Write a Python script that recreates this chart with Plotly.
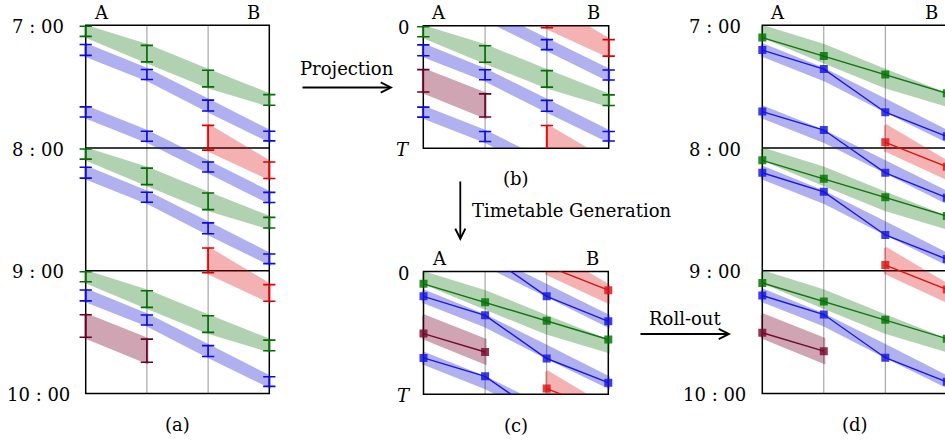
import plotly.graph_objects as go

W, H = 945, 444
PERIOD = 60  # minutes in one timetable period

HOUR_LABELS = ["7 : 00", "8 : 00", "9 : 00", "10 : 00"]
STATION_NAMES = ["A", "B"]
PANEL_LABELS = ["(a)", "(b)", "(c)", "(d)"]
PERIOD_LABELS = ["0", "<i>T</i>"]
ARROW_LABELS = ["Projection", "Timetable Generation", "Roll-out"]

# ---- train data (minutes after the start of the train's hour) ----
green_stations = [0, 1, 2, 3]
green_lo = [0.5, 9.8, 22.0, 33.9]
green_hi = [5.4, 17.9, 30.1, 39.1]
green_plan = [6.0, 15.0, 24.0, 33.2]
green_hours = [0, 1, 2]

blue1_stations = [0, 1, 2, 3]
blue1_lo = [9.4, 21.6, 36.6, 51.8]
blue1_hi = [14.7, 26.5, 41.9, 56.5]
blue1_plan = [12.1, 21.4, 42.5, 54.3]
blue1_hours = [0, 1, 2]

blue2_stations = [0, 1, 2, 3]
blue2_lo = [39.9, 51.8, 66.8, 81.7]
blue2_hi = [44.8, 56.7, 71.7, 86.6]
blue2_plan = [42.2, 51.2, 72.1, 84.3]
blue2_hours = [0]

red_stations = [2, 3]
red_lo = [48.9, 66.8]
red_hi = [61.0, 74.9]
red_plan = [57.2, 69.1]
red_hours = [0, 1]

maroon_stations = [0, 1]
maroon_lo = [21.5, 33.4]
maroon_hi = [32.5, 44.7]
maroon_plan = [30.3, 39.3]
maroon_hours = [2]

trains = [
    dict(st=green_stations, lo=green_lo, hi=green_hi, plan=green_plan, hours=green_hours,
         bar="rgb(0,110,0)", fill="rgb(0,110,0)", fop=0.30, line="rgb(20,115,20)", mark="rgba(0,115,0,0.82)"),
    dict(st=blue1_stations, lo=blue1_lo, hi=blue1_hi, plan=blue1_plan, hours=blue1_hours,
         bar="rgb(10,10,225)", fill="rgb(20,20,210)", fop=0.33, line="rgb(25,25,225)", mark="rgba(20,20,225,0.82)"),
    dict(st=blue2_stations, lo=blue2_lo, hi=blue2_hi, plan=blue2_plan, hours=blue2_hours,
         bar="rgb(10,10,225)", fill="rgb(20,20,210)", fop=0.33, line="rgb(25,25,225)", mark="rgba(20,20,225,0.82)"),
    dict(st=red_stations, lo=red_lo, hi=red_hi, plan=red_plan, hours=red_hours,
         bar="rgb(220,0,0)", fill="rgb(220,0,0)", fop=0.30, line="rgb(215,20,20)", mark="rgba(220,20,20,0.82)"),
    dict(st=maroon_stations, lo=maroon_lo, hi=maroon_hi, plan=maroon_plan, hours=maroon_hours,
         bar="rgb(105,0,35)", fill="rgb(120,0,40)", fop=0.35, line="rgb(115,10,45)", mark="rgba(120,10,45,0.82)"),
]

# ---- panel geometry (pixels) ----
panels = [
    dict(name="a", n="", st0=85.7, dx=61.2, top=25.3, bot=393.5, span=180, right=None, mode="errbar", proj=False),
    dict(name="b", n="2", st0=423.3, dx=61.8, top=25.7, bot=148.2, span=60, right=None, mode="errbar", proj=True),
    dict(name="c", n="3", st0=423.5, dx=61.6, top=271.6, bot=394.3, span=60, right=None, mode="plan", proj=True),
    dict(name="d", n="4", st0=762.3, dx=61.5, top=25.3, bot=393.5, span=180, right=W, mode="plan", proj=False),
]
CAP = 0.1
XPAD = 0.25
YPAD = 1.5
FONT = dict(family="DejaVu Serif, serif", size=18, color="black")

def pxx(p, s):
    return p["st0"] + s * p["dx"]

def pxy(p, m):
    return p["top"] + m * (p["bot"] - p["top"]) / p["span"]

def fx(px):
    return px / W

def fy(py):
    return 1 - py / H

def text(t, x, y, xanchor="center"):
    return dict(text=t, x=fx(x), y=fy(y), xref="paper", yref="paper", showarrow=False, font=FONT,
                xanchor=xanchor, yanchor="middle")

fig = go.Figure()
layout_axes = {}
shapes = []
annotations = []

for p in panels:
    xa, ya = "x" + p["n"], "y" + p["n"]
    x_left = pxx(p, -XPAD)
    if p["right"] is None:
        x_right = pxx(p, 3 + XPAD)
        xr = [-XPAD, 3 + XPAD]
    else:
        x_right = p["right"]
        xr = [-XPAD, (p["right"] - p["st0"]) / p["dx"]]
    if p["proj"]:
        y_top, y_bot = p["top"], p["bot"]
        yr = [p["span"], 0]
    else:
        s = (p["bot"] - p["top"]) / p["span"]
        y_top, y_bot = p["top"] - YPAD * s, p["bot"] + YPAD * s
        yr = [p["span"] + YPAD, -YPAD]
    layout_axes["xaxis" + p["n"]] = dict(domain=[fx(x_left), fx(x_right)], range=xr, visible=False,
                                          fixedrange=True, anchor=ya)
    layout_axes["yaxis" + p["n"]] = dict(domain=[fy(y_bot), fy(y_top)], range=yr, visible=False,
                                          fixedrange=True, anchor=xa)

    # frame, station lines, hour lines
    X0, X3 = pxx(p, 0), pxx(p, 3)
    Y0, Y1 = pxy(p, 0), pxy(p, p["span"])
    for s in (1, 2):
        shapes.append(dict(type="line", xref="paper", yref="paper", x0=fx(pxx(p, s)), x1=fx(pxx(p, s)),
                           y0=fy(Y0), y1=fy(Y1), line=dict(color="rgb(150,150,150)", width=1), layer="below"))
    for m in range(PERIOD, p["span"], PERIOD):
        shapes.append(dict(type="line", xref="paper", yref="paper", x0=fx(X0), x1=fx(X3),
                           y0=fy(pxy(p, m)), y1=fy(pxy(p, m)), line=dict(color="black", width=1.5), layer="below"))
    shapes.append(dict(type="rect", xref="paper", yref="paper", x0=fx(X0), x1=fx(X3), y0=fy(Y1), y1=fy(Y0),
                       line=dict(color="black", width=1.5), fillcolor="rgba(0,0,0,0)", layer="below"))

    # traces
    band_traces, top_traces = [], []
    for tr in trains:
        shifts = [0, -PERIOD] if p["proj"] else [PERIOD * k for k in tr["hours"]]
        for sh in shifts:
            xs = list(tr["st"]) + list(reversed(tr["st"])) + [tr["st"][0]]
            ys = [v + sh for v in tr["lo"]] + [v + sh for v in reversed(tr["hi"])] + [tr["lo"][0] + sh]
            band_traces.append(go.Scatter(x=xs, y=ys, mode="lines", fill="toself", fillcolor=tr["fill"],
                                          line=dict(width=3, color=tr["fill"]), opacity=tr["fop"],
                                          hoverinfo="skip", showlegend=False, xaxis=xa, yaxis=ya))
            if p["mode"] == "errbar":
                bx, by = [], []
                for st, lo, hi in zip(tr["st"], tr["lo"], tr["hi"]):
                    a, b = lo + sh, hi + sh
                    bx += [st - CAP, st + CAP, None, st, st, None, st - CAP, st + CAP, None]
                    by += [a, a, None, a, b, None, b, b, None]
                top_traces.append(go.Scatter(x=bx, y=by, mode="lines", line=dict(color=tr["bar"], width=1.6),
                                             hoverinfo="skip", showlegend=False, xaxis=xa, yaxis=ya))
            else:
                top_traces.append(go.Scatter(x=tr["st"], y=[v + sh for v in tr["plan"]], mode="lines+markers",
                                             line=dict(color=tr["line"], width=1.4),
                                             marker=dict(symbol="square", size=8, color=tr["mark"], line=dict(width=0)),
                                             hoverinfo="skip", showlegend=False, xaxis=xa, yaxis=ya))
    for t in band_traces + top_traces:
        fig.add_trace(t)

    # texts
    annotations.append(text(STATION_NAMES[0], pxx(p, 0) + 15.5, p["top"] - 13))
    annotations.append(text(STATION_NAMES[1], pxx(p, 3) - 15.5, p["top"] - 13))
    lab_y = p["bot"] + 31 if p["name"] != "b" else p["bot"] + 30
    annotations.append(text(PANEL_LABELS["abcd".index(p["name"])], pxx(p, 1.5), lab_y))
    if p["proj"]:
        for lab, m in zip(PERIOD_LABELS, [0, p["span"]]):
            annotations.append(text(lab, pxx(p, 0) - 20, pxy(p, m) + 1.5))
    else:
        for i, lab in enumerate(HOUR_LABELS):
            annotations.append(text(lab, pxx(p, 0) - 47.5, pxy(p, i * PERIOD) + 1))

# arrows: (head_x, head_y, tail_dx, tail_dy)
arrows = [(393.0, 87.5, -92, 0), (460.3, 241.0, 0, -61), (731.0, 334.0, -92, 0)]
for hx, hy, ax, ay in arrows:
    annotations.append(dict(text="", x=fx(hx), y=fy(hy), xref="paper", yref="paper", ax=ax, ay=ay,
                            showarrow=True, arrowhead=5, arrowsize=1.1, arrowwidth=1.8, arrowcolor="black",
                            standoff=0, startstandoff=0))
annotations.append(text(ARROW_LABELS[0], 346.5, 68))
annotations.append(text(ARROW_LABELS[1], 470, 211, xanchor="left"))
annotations.append(text(ARROW_LABELS[2], 684.7, 318))

fig.update_layout(width=W, height=H, margin=dict(l=0, r=0, t=0, b=0), paper_bgcolor="white",
                  plot_bgcolor="rgba(0,0,0,0)", showlegend=False, shapes=shapes, annotations=annotations,
                  **layout_axes)
fig.write_html("out.html")
